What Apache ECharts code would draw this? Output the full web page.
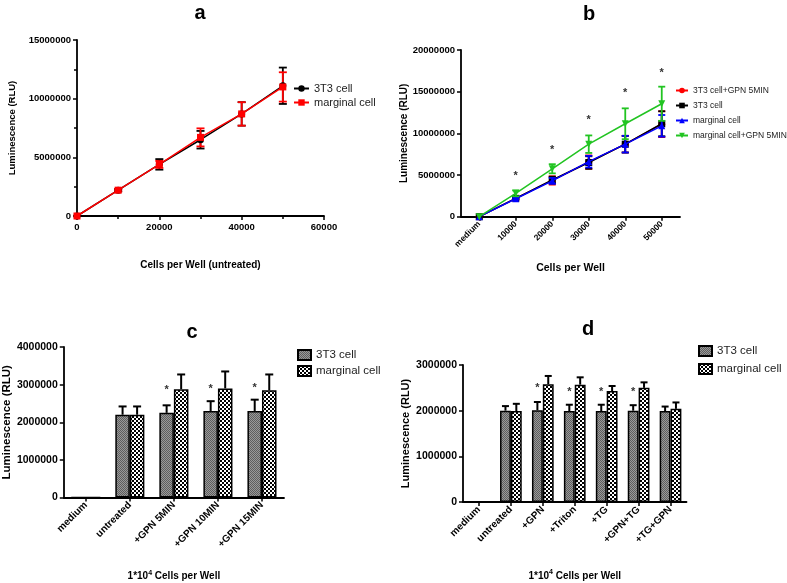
<!DOCTYPE html>
<html><head><meta charset="utf-8">
<script src="https://cdn.jsdelivr.net/npm/echarts@6/dist/echarts.min.js"></script>
<style>html,body{margin:0;padding:0;background:#fff}#c{width:787px;height:583px}</style>
</head><body><div id="c"></div>
<script>
// ---------- Panel a ----------
const aX = [0, 10000, 20000, 30000, 40000, 50000];
const a3T3 = [0, 2200000, 4400000, 6500000, 8700000, 11100000];
const a3T3Err = [0, 100000, 450000, 750000, 1000000, 1550000];
const aMarg = [0, 2200000, 4400000, 6700000, 8700000, 11000000];
const aMargErr = [0, 100000, 300000, 770000, 1000000, 1250000];
// ---------- Panel b ----------
const bCats = ['medium', '10000', '20000', '30000', '40000', '50000'];
const b3T3GPN = [0, 2200000, 4350000, 6550000, 8700000, 11100000];
const b3T3GPNErr = [0, 150000, 500000, 800000, 1000000, 1550000];
const b3T3 = [0, 2200000, 4400000, 6500000, 8700000, 11150000];
const b3T3Err = [0, 100000, 400000, 750000, 1000000, 1500000];
const bMarg = [0, 2150000, 4300000, 6600000, 8700000, 10900000];
const bMargErr = [0, 100000, 350000, 700000, 1000000, 1300000];
const bMargGPN = [0, 2800000, 5750000, 8700000, 11150000, 13550000];
const bMargGPNErr = [0, 350000, 550000, 1050000, 1850000, 2050000];
const bStarCat = [1, 2, 3, 4, 5];
const bStarY = [4850000, 8000000, 11600000, 14850000, 17300000];
// ---------- Panel c ----------
const cCats = ['medium', 'untreated', '+GPN 5MIN', '+GPN 10MIN', '+GPN 15MIN'];
const c3T3 = [0, 2200000, 2250000, 2300000, 2300000];
const c3T3Err = [0, 220000, 200000, 260000, 300000];
const cMarg = [0, 2200000, 2880000, 2900000, 2850000];
const cMargErr = [0, 220000, 390000, 450000, 420000];
const cStarCat = [2, 3, 4];
const cStarY = [2860000, 2890000, 2910000];
// ---------- Panel d ----------
const dCats = ['medium', 'untreated', '+GPN', '+Triton', '+TG', '+GPN+TG', '+TG+GPN'];
const d3T3 = [0, 2000000, 2010000, 1990000, 1990000, 2000000, 1990000];
const d3T3Err = [0, 100000, 180000, 140000, 140000, 120000, 100000];
const dMarg = [0, 1990000, 2580000, 2570000, 2430000, 2500000, 2040000];
const dMargErr = [0, 160000, 180000, 160000, 110000, 120000, 140000];
const dStarCat = [2, 3, 4, 5];
const dStarY = [2500000, 2410000, 2420000, 2420000];

const FONT = "'Liberation Sans', Arial, sans-serif";

function makePattern(size, draw) {
  const c = document.createElement('canvas');
  c.width = size; c.height = size;
  draw(c.getContext('2d'));
  return { image: c, repeat: 'repeat' };
}
const pat3T3 = makePattern(2, ctx => {
  ctx.fillStyle = '#999'; ctx.fillRect(0, 0, 2, 2);
  ctx.fillStyle = '#5e5e5e'; ctx.fillRect(0, 0, 1, 1); ctx.fillRect(1, 1, 1, 1);
});
const patMarg = makePattern(4, ctx => {
  ctx.fillStyle = '#fff'; ctx.fillRect(0, 0, 4, 4);
  ctx.fillStyle = '#000'; ctx.fillRect(0, 0, 2, 2); ctx.fillRect(2, 2, 2, 2);
});

const axisLine = { show: true, onZero: false, lineStyle: { color: '#000', width: 1.8 } };
const axisTick = { show: true, length: 4, lineStyle: { color: '#000', width: 1.5 } };
const noSplit = { show: false };
const numFmt = v => String(v);

function yAxis(gi, max, interval, gap, fs, nfs) {
  return {
    type: 'value', gridIndex: gi, min: 0, max: max, interval: interval,
    axisLine, axisTick, splitLine: noSplit,
    axisLabel: { color: '#000', fontWeight: 'bold', fontSize: fs, fontFamily: FONT, margin: 6, formatter: numFmt },
    name: 'Luminescence (RLU)', nameLocation: 'middle', nameRotate: 90, nameGap: gap,
    nameTextStyle: { color: '#000', fontWeight: 'bold', fontSize: nfs, fontFamily: FONT }
  };
}
function catAxis(gi, cats, name, gap, fs, nfs) {
  return {
    type: 'category', gridIndex: gi, data: cats, boundaryGap: true,
    axisLine, axisTick: Object.assign({ alignWithLabel: true }, axisTick), splitLine: noSplit,
    axisLabel: { color: '#000', fontWeight: 'bold', fontSize: fs, fontFamily: FONT, rotate: 45, interval: 0, margin: 6 },
    name: name, nameLocation: 'middle', nameGap: gap,
    nameTextStyle: { color: '#000', fontWeight: 'bold', fontSize: nfs, fontFamily: FONT,
      rich: { sup: { fontSize: 7, fontWeight: 'bold', fontFamily: FONT, color: '#000', padding: [0, 0, 7, 0] } } }
  };
}

function lineErr(color, capW) {
  return function (params, api) {
    const x = api.value(0), lo = api.value(1), hi = api.value(2);
    if (!(hi > lo)) return null;
    const p1 = api.coord([x, lo]), p2 = api.coord([x, hi]);
    const st = { stroke: color, lineWidth: 1.8 };
    return { type: 'group', children: [
      { type: 'line', shape: { x1: p1[0], y1: p1[1], x2: p2[0], y2: p2[1] }, style: st },
      { type: 'line', shape: { x1: p1[0] - capW / 2, y1: p1[1], x2: p1[0] + capW / 2, y2: p1[1] }, style: st },
      { type: 'line', shape: { x1: p2[0] - capW / 2, y1: p2[1], x2: p2[0] + capW / 2, y2: p2[1] }, style: st }
    ] };
  };
}
function barErr(gap, side, capW) {
  return function (params, api) {
    const i = api.value(0), v = api.value(1), hi = api.value(2);
    if (!(hi > v)) return null;
    const band = api.size([1, 0])[0];
    const bw = band * (1 - gap) / 2;
    const p0 = api.coord([i, v]), p1 = api.coord([i, hi]);
    const cx = p0[0] + side * bw / 2;
    const st = { stroke: '#000', lineWidth: 2 };
    return { type: 'group', children: [
      { type: 'line', shape: { x1: cx, y1: p0[1], x2: cx, y2: p1[1] }, style: st },
      { type: 'line', shape: { x1: cx - capW / 2, y1: p1[1], x2: cx + capW / 2, y2: p1[1] }, style: st }
    ] };
  };
}
function starRender(gap, side, fs) {
  return function (params, api) {
    const i = api.value(0), v = api.value(1);
    const p = api.coord([i, v]);
    let cx = p[0];
    if (gap !== null) { const band = api.size([1, 0])[0]; cx += side * band * (1 - gap) / 4; }
    return { type: 'text', x: cx, y: p[1], style: { text: '*', fill: '#333', font: 'bold ' + fs + 'px ' + FONT, align: 'center', verticalAlign: 'middle' } };
  };
}

const errData = (xs, ys, es) => ys.map((y, i) => [xs[i], y - es[i], y + es[i]]);
const idx = arr => arr.map((_, i) => i);
const barErrData = (ys, es) => ys.map((y, i) => [i, y, y + es[i]]);

const series = [];
// Panel a
series.push({ type: 'custom', name: 'ea1', xAxisIndex: 0, yAxisIndex: 0, renderItem: lineErr('#000', 8), data: errData(aX, a3T3, a3T3Err), encode: { x: 0, y: [1, 2] }, z: 3 });
series.push({ type: 'custom', name: 'ea2', xAxisIndex: 0, yAxisIndex: 0, renderItem: lineErr('#ff0000', 8), data: errData(aX, aMarg, aMargErr), encode: { x: 0, y: [1, 2] }, z: 3 });
series.push({ type: 'line', name: 'a|3T3 cell', xAxisIndex: 0, yAxisIndex: 0, data: aX.map((x, i) => [x, a3T3[i]]), color: '#000', symbol: 'circle', symbolSize: 7, lineStyle: { width: 1.5 }, z: 4 });
series.push({ type: 'line', name: 'a|marginal cell', xAxisIndex: 0, yAxisIndex: 0, data: aX.map((x, i) => [x, aMarg[i]]), color: '#ff0000', symbol: 'rect', symbolSize: 7, lineStyle: { width: 1.5 }, z: 5 });
// Panel b
const bIdx = idx(bCats);
const bDefs = [
  ['b|3T3 cell+GPN 5MIN', b3T3GPN, b3T3GPNErr, '#ff0000', 'circle', 0],
  ['b|3T3 cell', b3T3, b3T3Err, '#000000', 'rect', 0],
  ['b|marginal cell', bMarg, bMargErr, '#0000ff', 'triangle', 0],
  ['b|marginal cell+GPN 5MIN', bMargGPN, bMargGPNErr, '#22c422', 'triangle', 180]
];
bDefs.forEach((d, k) => {
  series.push({ type: 'custom', name: 'eb' + k, xAxisIndex: 1, yAxisIndex: 1, renderItem: lineErr(d[3], 7), data: errData(bIdx, d[1], d[2]), encode: { x: 0, y: [1, 2] }, z: 3 + k });
  series.push({ type: 'line', name: d[0], xAxisIndex: 1, yAxisIndex: 1, data: d[1], color: d[3], symbol: d[4], symbolRotate: d[5], symbolSize: 7, lineStyle: { width: 1.5 }, z: 3 + k });
});
series.push({ type: 'custom', name: 'sb', xAxisIndex: 1, yAxisIndex: 1, renderItem: starRender(null, 0, 11), data: bStarCat.map((c, i) => [c, bStarY[i]]), z: 10 });
// Panel c
series.push({ type: 'bar', name: 'c|3T3 cell', xAxisIndex: 2, yAxisIndex: 2, data: c3T3, barGap: '0%', barCategoryGap: '34%', itemStyle: { color: pat3T3, borderColor: '#000', borderWidth: 1.5 } });
series.push({ type: 'bar', name: 'c|marginal cell', xAxisIndex: 2, yAxisIndex: 2, data: cMarg, barGap: '0%', barCategoryGap: '34%', itemStyle: { color: patMarg, borderColor: '#000', borderWidth: 1.5 } });
series.push({ type: 'custom', name: 'ec1', xAxisIndex: 2, yAxisIndex: 2, renderItem: barErr(0.34, -1, 8), data: barErrData(c3T3, c3T3Err), encode: { x: 0, y: [1, 2] }, z: 5 });
series.push({ type: 'custom', name: 'ec2', xAxisIndex: 2, yAxisIndex: 2, renderItem: barErr(0.34, 1, 8), data: barErrData(cMarg, cMargErr), encode: { x: 0, y: [1, 2] }, z: 5 });
series.push({ type: 'custom', name: 'sc', xAxisIndex: 2, yAxisIndex: 2, renderItem: starRender(0.34, -1, 11), data: cStarCat.map((c, i) => [c, cStarY[i]]), z: 10 });
// Panel d
series.push({ type: 'bar', name: 'd|3T3 cell', xAxisIndex: 3, yAxisIndex: 3, data: d3T3, barGap: '0%', barCategoryGap: '32%', itemStyle: { color: pat3T3, borderColor: '#000', borderWidth: 1.5 } });
series.push({ type: 'bar', name: 'd|marginal cell', xAxisIndex: 3, yAxisIndex: 3, data: dMarg, barGap: '0%', barCategoryGap: '32%', itemStyle: { color: patMarg, borderColor: '#000', borderWidth: 1.5 } });
series.push({ type: 'custom', name: 'ed1', xAxisIndex: 3, yAxisIndex: 3, renderItem: barErr(0.32, -1, 7), data: barErrData(d3T3, d3T3Err), encode: { x: 0, y: [1, 2] }, z: 5 });
series.push({ type: 'custom', name: 'ed2', xAxisIndex: 3, yAxisIndex: 3, renderItem: barErr(0.32, 1, 7), data: barErrData(dMarg, dMargErr), encode: { x: 0, y: [1, 2] }, z: 5 });
series.push({ type: 'custom', name: 'sd', xAxisIndex: 3, yAxisIndex: 3, renderItem: starRender(0.32, -1, 11), data: dStarCat.map((c, i) => [c, dStarY[i]]), z: 10 });

const legFmt = n => n.split('|')[1];
const titleStyle = { color: '#000', fontWeight: 'bold', fontSize: 20, fontFamily: FONT };

const option = {
  animation: false,
  backgroundColor: '#fff',
  title: [
    { text: 'a', left: 200, top: 3, textAlign: 'center', padding: 0, textStyle: titleStyle },
    { text: 'b', left: 589, top: 4, textAlign: 'center', padding: 0, textStyle: titleStyle },
    { text: 'c', left: 192, top: 322, textAlign: 'center', padding: 0, textStyle: titleStyle },
    { text: 'd', left: 588, top: 319, textAlign: 'center', padding: 0, textStyle: titleStyle }
  ],
  legend: [
    { data: ['a|3T3 cell', 'a|marginal cell'], formatter: legFmt, orient: 'vertical', left: 293, top: 83, itemWidth: 15, itemHeight: 8, itemGap: 3, padding: 0,
      textStyle: { color: '#222', fontSize: 11, fontFamily: FONT } },
    { data: ['b|3T3 cell+GPN 5MIN', 'b|3T3 cell', 'b|marginal cell', 'b|marginal cell+GPN 5MIN'], formatter: legFmt, orient: 'vertical', left: 675, top: 86, itemWidth: 12, itemHeight: 7, itemGap: 6, padding: 0,
      textStyle: { color: '#222', fontSize: 8.5, fontFamily: FONT } },
    { data: ['c|3T3 cell', 'c|marginal cell'], formatter: legFmt, orient: 'vertical', left: 297, top: 349, icon: 'rect', itemWidth: 13, itemHeight: 10, itemGap: 4, padding: 0,
      textStyle: { color: '#222', fontSize: 11.5, fontFamily: FONT } },
    { data: ['d|3T3 cell', 'd|marginal cell'], formatter: legFmt, orient: 'vertical', left: 698, top: 345, icon: 'rect', itemWidth: 13, itemHeight: 10, itemGap: 6, padding: 0,
      textStyle: { color: '#222', fontSize: 11.5, fontFamily: FONT } }
  ],
  grid: [
    { left: 77, top: 40, width: 247, height: 176 },
    { left: 461, top: 50, width: 219, height: 166.7 },
    { left: 63, top: 347, width: 221, height: 150.5 },
    { left: 463, top: 365, width: 223.5, height: 137 }
  ],
  xAxis: [
    { type: 'value', gridIndex: 0, min: 0, max: 60000, interval: 20000, axisLine, axisTick, splitLine: noSplit,
      minorTick: { show: true, splitNumber: 2, length: 3, lineStyle: { color: '#000', width: 1.5 } },
      axisLabel: { color: '#000', fontWeight: 'bold', fontSize: 9.5, fontFamily: FONT, margin: 6, formatter: numFmt },
      name: 'Cells per Well (untreated)', nameLocation: 'middle', nameGap: 44,
      nameTextStyle: { color: '#000', fontWeight: 'bold', fontSize: 10, fontFamily: FONT } },
    catAxis(1, bCats, 'Cells per Well', 46, 8.5, 10.5),
    catAxis(2, cCats, '1*10{sup|4} Cells per Well', 72, 10, 10),
    catAxis(3, dCats, '1*10{sup|4} Cells per Well', 67, 10, 10)
  ],
  yAxis: [
    Object.assign(yAxis(0, 15000000, 5000000, 60, 9.5, 9.5), { minorTick: { show: true, splitNumber: 2, length: 3, lineStyle: { color: '#000', width: 1.5 } } }),
    yAxis(1, 20000000, 5000000, 50, 9.5, 10),
    yAxis(2, 4000000, 1000000, 48, 10.5, 11.5),
    yAxis(3, 3000000, 1000000, 52, 10.5, 11)
  ],
  series: series
};

const chart = echarts.init(document.getElementById('c'), null, { renderer: 'canvas' });
chart.setOption(option);
</script>
</body></html>
